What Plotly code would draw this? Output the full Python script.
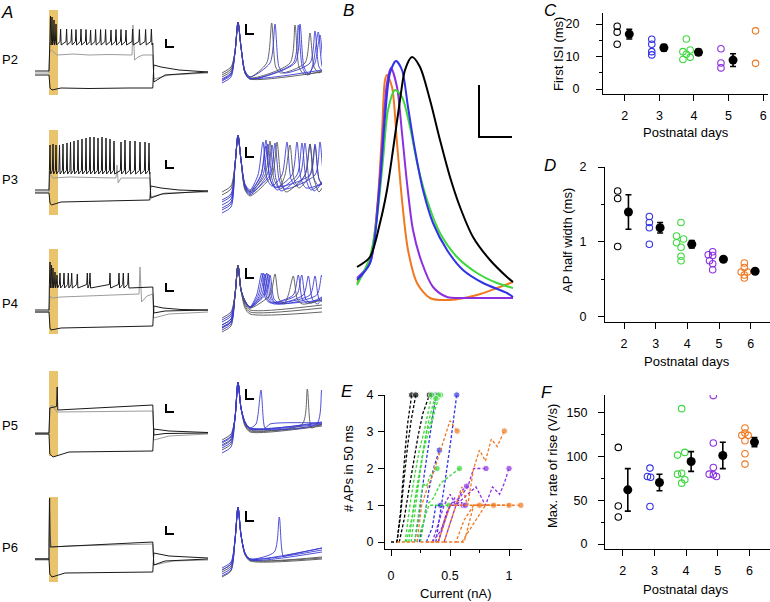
import plotly.graph_objects as go

W, H = 770, 602
FONT = "Liberation Sans, Arial, Helvetica, sans-serif"

# ---------------- data ----------------
AGES = ["P2", "P3", "P4", "P5", "P6"]
DAYS = [2, 3, 4, 5, 6]
AGE_COLORS = ["#000000", "#3232e6", "#3cd83c", "#8c2fe0", "#f07820"]

# A (left): responses to a current step, time (ms) / membrane potential (mV)
T_START, T_END = -70, 795
LIGHT_ON, LIGHT_OFF = 0, 45
STEP_END = [520, 505, 520, 520, 520]

SPK_TIMES = [
    [7.5, 15, 25, 35, 58, 88, 113, 135, 160, 185, 208, 233, 258, 283, 310, 335, 360, 385, 418, 452, 483, 512],
    [5, 20, 35, 52.5, 70, 90, 107.5, 125, 145, 165, 185, 205, 225, 245, 265, 285, 305, 325, 360, 380, 405, 430, 455, 480, 500],
    [5, 12.5, 20, 30, 40, 55, 75, 96.5, 113.5, 141.5, 191.5, 205, 305, 350, 371.5, 396.5],
    [41],
    [3],
]
SPK_PEAKS = [
    [42, 40, 34, 26, 16, 16, 15, 15, 16, 15, 14, 15, 15, 15, 14, 15, 15, 14, 16, 15, 15, 16],
    [24, 26, 24, 24, 26, 28, 30, 32, 34, 36, 38, 40, 40, 38, 40, 38, 36, 32, 30, 34, 32, 32, 30, 30, 28],
    [28, 22, 16, 8, 2, 6, 6, 6, 6, 4, 6, 6, 6, 6, 6, 6],
    [22],
    [52],
]
SPK_PRE = [-68, -66, -68, -70, -70]
SPK_PLATEAU = [-12, -30, -20, -20, -42]
SPK_LAST = [-12, -30, -22, -14, -36]
SPK_OFF = [[-90, -76, -70], [-82, -74, -68], [-74, -70, -68], [-74, -71, -70], [-82, -74, -70]]

GRAY_T = [
    [-70, 0, 3, 12, 40, 120, 200, 300, 415, 420, 428, 445, 470, 519, 524, 600, 795],
    [-70, 0, 4, 20, 100, 335, 340, 346, 360, 504, 508, 580, 795],
    [-70, 0, 4, 15, 60, 200, 300, 450, 455, 463, 490, 519, 523, 600, 795],
    [-70, 0, 5, 15, 40, 200, 519, 524, 600, 795],
    [-70, 0, 2, 4, 12, 100, 519, 524, 620, 795],
]
GRAY_V = [
    [-72, -72, -30, -26, -36, -34, -36, -35, -36, 24, -46, -40, -36, -36, -84, -76, -72],
    [-70, -70, -34, -42, -40, -42, -16, -52, -42, -42, -80, -72, -70],
    [-72, -72, -40, -44, -42, -40, -38, -36, 18, -52, -40, -36, -84, -76, -72],
    [-72, -72, -20, -14, -28, -27, -26, -84, -76, -72],
    [-72, -72, 48, -20, -46, -44, -40, -82, -74, -72],
]
HYP_T = [
    [-70, 0, 5, 15, 60, 200, 400, 519, 524, 560, 650, 795],
    [-70, 0, 5, 12, 60, 300, 504, 509, 560, 650, 795],
    [-70, 0, 5, 10, 60, 300, 519, 524, 570, 660, 795],
    [-70, 0, 4, 20, 100, 300, 519, 524, 600, 795],
    [-70, 0, 4, 15, 80, 300, 519, 524, 600, 795],
]
HYP_V = [
    [-76, -76, -102, -106, -102, -103, -102, -102, -56, -60, -66, -70],
    [-72, -72, -92, -96, -90, -88, -86, -58, -62, -66, -68],
    [-72, -72, -104, -108, -104, -102, -100, -60, -64, -67, -68],
    [-72, -72, -112, -118, -108, -107, -106, -62, -66, -69],
    [-70, -70, -100, -106, -98, -97, -96, -58, -64, -68],
]
SCALE_LEFT_ANCHOR = [(585, -20), (585, -22), (585, -30), (585, -28), (585, -20)]
SCALE_LEFT = (40, 16)  # ms, mV

# A (right): first spikes enlarged, time in samples (0.5 ms) / mV
ZOOM_MAIN = [  # peak, rise mid, fall mid, threshold of later spikes
    dict(peak=-15, rise=-45, fall=-40, thr=-56),
    dict(peak=-15, rise=-45, fall=-40, thr=-55),
    dict(peak=-35, rise=-65, fall=-60, thr=-65),
    dict(peak=-24, rise=-60, fall=-50, thr=-66),
    dict(peak=-17, rise=-50, fall=-45, thr=-62),
]
# (colour, start, trough, later spike times, later spike peaks, end)
ZOOM_TRACES = [
    [("g", -68, -70, [49.7, 88], [-16, -26], -63), ("b", -72, -70, [53, 93], [-17, -24], -60),
     ("g", -70, -71, [73], [-18], -64), ("b", -74, -72, [76.3, 98], [-18, -28], -58),
     ("b", -76, -72, [78, 96.3], [-17, -25], -59), ("g", -66, -72, [], [], -65),
     ("b", -73, -71, [], [], -63)],
    [("b", -80, -70, [41, 65, 88], [-22, -22, -24], -62), ("b", -85, -72, [44, 75], [-20, -22], -64),
     ("b", -90, -74, [46, 80], [-24, -23], -62), ("g", -75, -72, [48, 68, 93], [-21, -25, -26], -66),
     ("b", -93, -75, [50, 83], [-25, -23], -63), ("b", -88, -73, [53, 98], [-23, -22], -60),
     ("g", -72, -76, [55, 88], [-22, -24], -68), ("b", -82, -71, [44, 93], [-26, -24], -62)],
    [("g", -102, -84, [], [], -82), ("g", -98, -82, [], [], -78), ("g", -95, -80, [], [], -75),
     ("b", -92, -77, [39.7, 76.3], [-43, -45], -67), ("b", -95, -77, [41.3, 79.7], [-43, -45], -68),
     ("b", -98, -78, [43, 86.3], [-44, -46], -69), ("b", -100, -77, [44.7, 93], [-43, -46], -68),
     ("b", -97, -78, [46.3, 99.7], [-44, -45], -66), ("b", -90, -77, [48], [-45], -70),
     ("g", -88, -78, [53, 71.3], [-44, -46], -70)],
    [("g", -92, -74, [], [], -68), ("g", -87, -73, [], [], -67), ("b", -85, -70, [39], [-32], -65),
     ("g", -82, -72, [85.3], [-31], -66), ("b", -90, -70, [99.7], [-32], -64), ("b", -95, -71, [], [], -64),
     ("b", -88, -70, [], [], -65), ("b", -84, -71, [], [], -66)],
    [("g", -82, -70, [], [], -68), ("g", -87, -71, [], [], -69), ("g", -80, -70, [], [], -67),
     ("b", -80, -69, [57.3], [-27], -58), ("b", -84, -69, [], [], -58), ("b", -86, -70, [], [], -62),
     ("b", -78, -69, [], [], -60)],
]
SCALE_RIGHT_ANCHOR = [(24, -27), (24, -37), (24, -48), (24, -41), (24, -31)]
SCALE_RIGHT = (8, 10)

# B: average action potentials (samples / a.u.)
B_T = [
    [7, 20, 30, 37, 43, 50, 55, 62, 70, 80, 90, 100, 110, 123, 140, 157, 163],
    [7, 20, 30, 35, 40, 46, 52, 58, 65, 73, 83, 97, 113, 133, 157, 163],
    [7, 20, 27, 33, 38, 45, 52, 60, 68, 78, 90, 107, 127, 147, 163],
    [7, 20, 28, 33, 37, 41, 47, 52, 57, 63, 72, 83, 97, 117, 163],
    [7, 20, 27, 32, 35, 37, 42, 47, 52, 58, 67, 80, 100, 127, 147, 163],
]
B_V = [
    [33, 43, 77, 110, 150, 200, 230, 243, 233, 200, 160, 123, 93, 63, 40, 23, 18],
    [20, 37, 117, 183, 227, 239, 230, 193, 150, 110, 77, 50, 30, 17, 7, 3],
    [15, 43, 83, 140, 190, 210, 203, 173, 133, 97, 67, 43, 27, 17, 12],
    [22, 37, 100, 167, 217, 232, 213, 167, 117, 70, 37, 13, 3, 2, 2],
    [17, 40, 90, 167, 220, 225, 213, 157, 100, 50, 17, 2, 0, 5, 12, 18],
]
B_SCALE_ANCHOR = (129, 163)
B_SCALE = (33, 52)

# C: first ISI (ms)
C_VALUES = [[19.3, 17.5, 13.8], [15.3, 13.8, 11.5, 10.5], [15.4, 12.0, 11.5, 10.7, 9.75, 9.1],
            [12.4, 8.0, 6.5], [17.9, 7.9]]
C_MEANS = [16.9, 12.7, 11.3, 8.9]
C_SEM = [1.5, 1.0, 0.9, 1.95]
# D: AP half width (ms)
D_VALUES = [[1.68, 1.58, 0.94], [1.34, 1.26, 1.19, 0.97], [1.26, 1.08, 1.04, 0.99, 0.93, 0.81, 0.75],
            [0.87, 0.83, 0.82, 0.75, 0.71, 0.63], [0.72, 0.66, 0.60, 0.60, 0.56, 0.52]]
D_MEANS = [1.40, 1.19, 0.97, 0.77, 0.61]
D_SEM = [0.23, 0.07, 0.05, 0.02, 0.02]
# F: max rate of rise (V/s)
F_VALUES = [[110.6, 43.6, 31.0], [86.9, 77.3, 76.5, 42.9], [155.0, 104.9, 101.8, 81.1, 80.0, 73.5, 69.7],
            [169.9, 115.6, 87.6, 80.0, 79.2, 77.3], [132.8, 127.0, 124.4, 124.4, 118.3, 103.3, 91.5]]
F_MEANS = [62.0, 70.4, 94.5, 101.4, 116.7]
F_SEM = [24.3, 9.5, 11.3, 15.1, 5.2]

# E: number of APs in 50 ms vs injected current (nA)
E_CURVES = [
    (0, [0.00, 0.05, 0.08, 0.10, 0.12, 0.14, 0.175], [0, 0, 0.8, 1.7, 2.5, 3.2, 4]),
    (0, [0.05, 0.08, 0.11, 0.14, 0.17, 0.21], [0, 0.7, 1.7, 2.6, 3.3, 4]),
    (0, [0.07, 0.11, 0.15, 0.19, 0.23, 0.27, 0.325], [0, 0.6, 1.4, 2.2, 2.9, 3.5, 4]),
    (1, [0.20, 0.24, 0.28, 0.32, 0.35, 0.38], [0, 0.8, 1.8, 2.7, 3.4, 4]),
    (1, [0.24, 0.28, 0.32, 0.36, 0.41], [0, 0.6, 1.4, 2.0, 2.5]),
    (1, [0.30, 0.35, 0.38, 0.42], [0, 0.4, 1, 1]),
    (1, [0.38, 0.42, 0.46, 0.50, 0.53, 0.557], [0, 0.8, 1.7, 2.6, 3.3, 4]),
    (2, [0.12, 0.16, 0.20, 0.24, 0.28, 0.31, 0.345], [0, 1.0, 1.8, 2.5, 3.0, 3.5, 4]),
    (2, [0.15, 0.19, 0.23, 0.27, 0.31, 0.35, 0.38, 0.42], [0, 0.9, 1.6, 2.4, 2.9, 3.3, 3.7, 4]),
    (2, [0.17, 0.21, 0.25, 0.29, 0.32, 0.36, 0.40], [0, 1.0, 2.0, 2.8, 3.3, 3.8, 4]),
    (2, [0.20, 0.24, 0.27, 0.30, 0.33, 0.36, 0.39], [0, 1.0, 1.6, 1.5, 1.8, 1.9, 2]),
    (2, [0.22, 0.27, 0.32, 0.38, 0.44, 0.49], [0, 0.5, 1, 1, 1, 1]),
    (2, [0.25, 0.30, 0.36, 0.42, 0.50, 0.58], [0, 1, 1.2, 1.6, 1.8, 2]),
    (2, [0.13, 0.18, 0.22, 0.26, 0.30, 0.34, 0.38], [0, 0.7, 1.5, 2.3, 3.0, 3.3, 3.9]),
    (3, [0.35, 0.40, 0.45, 0.50, 0.55, 0.60, 0.64], [0, 0.5, 1, 1.3, 1, 1.4, 1.52]),
    (3, [0.35, 0.42, 0.50, 0.58, 0.65, 0.70, 0.75, 0.805], [0, 0.3, 1, 1.2, 1.5, 2, 2, 2]),
    (3, [0.40, 0.45, 0.50, 0.55, 0.61], [0, 0.5, 1, 1, 1]),
    (3, [0.45, 0.55, 0.65, 0.72, 0.80, 0.86, 0.92, 0.96, 1.0], [0, 1, 1.3, 1.5, 1.0, 1.5, 1.3, 1.6, 2]),
    (3, [0.40, 0.47, 0.54, 0.63], [0, 0.8, 1.2, 1]),
    (4, [0.05, 0.22, 0.26, 0.30, 0.35, 0.40, 0.45, 0.50, 0.56], [0, 0, 1, 1.4, 1.8, 2.3, 2.8, 3.3, 3.02]),
    (4, [0.25, 0.40, 0.45, 0.50, 0.55, 0.60, 0.65, 0.70, 0.75, 0.80, 0.85, 0.90, 0.96],
     [0, 0, 0.5, 1, 1, 1.5, 1, 2, 2.5, 2.2, 2.8, 2.6, 3.02]),
    (4, [0.30, 0.45, 0.50, 0.55, 0.65, 0.75], [0, 0, 0.5, 1, 1, 1]),
    (4, [0.45, 0.55, 0.62, 0.70, 0.80, 0.87], [0, 0, 0.6, 1, 1, 1]),
    (4, [0.55, 0.62, 0.70, 0.80, 0.90, 0.95, 1.0], [0, 0, 1, 1, 1, 1, 1]),
    (4, [0.60, 0.70, 0.80, 0.95, 1.10], [0, 0.5, 1, 1, 1]),
]

# ---------------- styling ----------------
TRACE_BLACK = "#1a1a1a"
TRACE_LIGHT = "#9c9c9c"
ZOOM_COLORS = {"b": "#3b3bd2", "g": "#555555"}
YELLOW = "#e9c46c"
ROW_BASE = [72, 192, 311, 433, 559]          # pixel row of the resting potential
ROW_SHIFT = [5, -2, -11, -5, 1]              # offset of the zoomed panels
OPEN_OFFSET = {"C": -0.22, "D": -0.2, "F": -0.14}
MEAN_OFFSET = {"C": 0.13, "D": 0.14, "F": 0.16}
JITTER = {
    "C": [[0, 0, 0], [0, 0, 0, 0], [0, 0.11, -0.1, 0, 0.11, -0.1], [0, 0, 0], [0, 0]],
    "D": [[0, 0, 0], [0, 0, 0, 0], [0, -0.14, 0.08, -0.14, 0, 0, 0], [0, -0.14, 0, -0.1, 0, 0],
          [0, 0, -0.1, 0.1, 0, 0]],
    "F": [[0, 0, 0], [0, -0.08, 0.02, 0], [0, 0.1, -0.13, 0, -0.13, 0.1, 0], [0, 0, 0, -0.13, 0, 0.1],
          [0, 0, -0.1, 0.1, 0, 0, 0]],
}

fig = go.Figure()
axes = {}


def dom_x(a, b):
    return [a / W, b / W]


def dom_y(top, bottom):
    return [1 - bottom / H, 1 - top / H]


def make_axes(i, xdom, ydom, xr, yr, xstyle=None, ystyle=None):
    xr_ref = "x" if i == 1 else f"x{i}"
    yr_ref = "y" if i == 1 else f"y{i}"
    xa = dict(domain=xdom, range=xr, anchor=yr_ref, visible=False, fixedrange=True, automargin=False)
    ya = dict(domain=ydom, range=yr, anchor=xr_ref, visible=False, fixedrange=True, automargin=False)
    if xstyle:
        xa.update(visible=True, **xstyle)
    if ystyle:
        ya.update(visible=True, **ystyle)
    axes["xaxis" if i == 1 else f"xaxis{i}"] = xa
    axes["yaxis" if i == 1 else f"yaxis{i}"] = ya
    return xr_ref, yr_ref


def line(xs, ys, xa, ya, color, width=1.0, shape="linear", smoothing=None):
    fig.add_trace(go.Scatter(x=xs, y=ys, xaxis=xa, yaxis=ya, mode="lines",
                             line=dict(color=color, width=width, shape=shape, smoothing=smoothing),
                             showlegend=False, hoverinfo="skip"))


def spike_train(times, peaks, pre, plateau, last, step_end, off):
    t, v = [T_START, 0], [pre, pre]
    if times[0] - 3 > 4:
        t.append(4)
        v.append(plateau)
    for ts, pk in zip(times, peaks):
        t += [ts - 3, ts, ts + 3]
        v += [plateau + 3, pk, plateau - 4]
    t += [step_end - 1, step_end + 4, step_end + 60, T_END]
    v += [last, off[0], off[1], off[2]]
    return t, v


def zoom_trace(main, start, trough, spk_t, spk_v, end):
    t = [0, 9, 13, 16, 19, 23, 28]
    v = [start, start + 6, main["rise"], main["peak"], main["fall"], trough + 6, trough]
    for s, pk in zip(spk_t, spk_v):
        t += [s - 5, s, s + 4, s + 9]
        v += [main["thr"], pk, main["thr"] - 4, trough + 4]
    if t[-1] < 100:
        t.append(100)
        v.append(end)
    return t, v


# ---- panel A ----
for r, age in enumerate(AGES):
    base = ROW_BASE[r]
    ydom = dom_y(base - 64, base + 26)
    xa, ya = make_axes(r + 1, dom_x(35, 208), ydom, [T_START, T_END], [-122, 58])
    fig.add_shape(type="rect", xref=xa, yref=f"{ya} domain", x0=LIGHT_ON, x1=LIGHT_OFF,
                  y0=0.033, y1=0.978, fillcolor=YELLOW, line_width=0, layer="below")
    line(GRAY_T[r], GRAY_V[r], xa, ya, TRACE_LIGHT)
    line(HYP_T[r], HYP_V[r], xa, ya, TRACE_BLACK)
    t, v = spike_train(SPK_TIMES[r], SPK_PEAKS[r], SPK_PRE[r], SPK_PLATEAU[r], SPK_LAST[r],
                       STEP_END[r], SPK_OFF[r])
    line(t, v, xa, ya, TRACE_BLACK)
    sx, sy = SCALE_LEFT_ANCHOR[r]
    line([sx, sx, sx + SCALE_LEFT[0]], [sy + SCALE_LEFT[1], sy, sy], xa, ya, "black", 2)

    d = ROW_SHIFT[r]
    xb, yb = make_axes(r + 6, dom_x(222, 322), ydom, [0, 100], [-96 + d, -6 + d])
    for col, start, trough, st, sv, end in ZOOM_TRACES[r]:
        t, v = zoom_trace(ZOOM_MAIN[r], start, trough, st, sv, end)
        line(t, v, xb, yb, ZOOM_COLORS[col], 0.9, shape="spline", smoothing=0.7)
    sx, sy = SCALE_RIGHT_ANCHOR[r]
    line([sx, sx, sx + SCALE_RIGHT[0]], [sy + SCALE_RIGHT[1], sy, sy], xb, yb, "black", 2)

# ---- panel B ----
xa, ya = make_axes(11, dom_x(350, 520), dom_y(50, 305), [0, 170], [-5, 250])
for k in [4, 3, 2, 1, 0]:
    line(B_T[k], B_V[k], xa, ya, AGE_COLORS[k], 2, shape="spline", smoothing=0.8)
bx, by = B_SCALE_ANCHOR
line([bx, bx, bx + B_SCALE[0]], [by + B_SCALE[1], by, by], xa, ya, "black", 2)

# ---- stats axes ----
TICKFONT = dict(family=FONT, size=12.5, color="black")
BASE_AX = dict(showline=True, linecolor="black", linewidth=1.3, ticks="outside", ticklen=6,
               tickwidth=1.3, tickcolor="black", showgrid=False, zeroline=False, tickfont=TICKFONT)


def minor(dt):
    return dict(ticks="outside", ticklen=3, tickwidth=1.3, tickcolor="black", dtick=dt, showgrid=False)


def day_axis():
    return dict(BASE_AX, tickvals=DAYS, ticklabelstandoff=4)


def stat_panel(key, xa, ya, values, means, sems):
    for k, vals in enumerate(values):
        xs = [DAYS[k] + OPEN_OFFSET[key] + j for j in JITTER[key][k]]
        fig.add_trace(go.Scatter(x=xs, y=vals, xaxis=xa, yaxis=ya, mode="markers", showlegend=False,
                                 marker=dict(symbol="circle-open", size=6.5, color=AGE_COLORS[k],
                                             line=dict(width=1.1)), hoverinfo="skip"))
    mx = [DAYS[k] + MEAN_OFFSET[key] for k in range(len(means))]
    fig.add_trace(go.Scatter(x=mx, y=means, xaxis=xa, yaxis=ya, mode="markers", showlegend=False,
                             marker=dict(size=9, color="black"),
                             error_y=dict(type="data", array=sems, color="black", thickness=1.6, width=3),
                             hoverinfo="skip"))


xa, ya = make_axes(12, dom_x(603, 768), dom_y(13, 94), [1.37, 6.14], [-1.54, 23.4],
                   day_axis(), dict(BASE_AX, tickvals=[0, 10, 20], minor=minor(5), ticklabelstandoff=14))
stat_panel("C", xa, ya, C_VALUES, C_MEANS, C_SEM)

xa, ya = make_axes(13, dom_x(605, 770), dom_y(167, 322), [1.40, 6.61], [-0.067, 2.0],
                   day_axis(), dict(BASE_AX, tickvals=[0, 1, 2], minor=minor(0.5), ticklabelstandoff=9))
stat_panel("D", xa, ya, D_VALUES, D_MEANS, D_SEM)

xa, ya = make_axes(15, dom_x(605, 770), dom_y(395, 549), [1.44, 6.65], [-5.7, 170.6],
                   day_axis(), dict(BASE_AX, tickvals=[0, 50, 100, 150], minor=minor(25),
                                    ticklabelstandoff=8))
stat_panel("F", xa, ya, F_VALUES, F_MEANS, F_SEM)

# ---- panel E ----
xa, ya = make_axes(14, dom_x(385, 522), dom_y(395, 549), [-0.051, 1.11], [-0.19, 4.0],
                   dict(BASE_AX, tickvals=[0, 0.5, 1], ticktext=["0", "0.5", "1"], minor=minor(0.25),
                        ticklabelstandoff=9),
                   dict(BASE_AX, tickvals=[0, 1, 2, 3, 4], ticklabelstandoff=2))
for k, cur, n in E_CURVES:
    fig.add_trace(go.Scatter(x=cur, y=n, xaxis=xa, yaxis=ya, mode="lines+markers", showlegend=False,
                             line=dict(color=AGE_COLORS[k], width=1.3, dash="3px,2px"),
                             marker=dict(size=[0] * (len(cur) - 1) + [6.5], color=AGE_COLORS[k]),
                             hoverinfo="skip", cliponaxis=False))

# ---- text ----
notes = []
for label, x, y in [("A", 7, 12), ("B", 348, 11), ("C", 550, 11), ("D", 550, 166), ("E", 347, 391),
                    ("F", 547, 392)]:
    notes.append(dict(text=f"<i>{label}</i>", x=x / W, y=1 - y / H, font=dict(size=17)))
for age, y in zip(AGES, [60, 180, 303, 425, 547]):
    notes.append(dict(text=age, x=10 / W, y=1 - y / H, font=dict(size=13)))
for text, x, y, ang in [("Postnatal days", 686, 133, 0), ("First ISI (ms)", 558, 54, -90),
                        ("Postnatal days", 687, 361, 0), ("AP half width (ms)", 567, 241, -90),
                        ("Postnatal days", 686, 589, 0), ("Max. rate of rise (V/s)", 552, 466, -90),
                        ("Current (nA)", 456, 593, 0), ("# APs in 50 ms", 348, 469, -90)]:
    notes.append(dict(text=text, x=x / W, y=1 - y / H, textangle=ang, font=dict(size=13)))
for a in notes:
    a.update(xref="paper", yref="paper", showarrow=False, xanchor="center", yanchor="middle")
    a["font"] = dict(family=FONT, color="black", **a["font"])

fig.update_layout(width=W, height=H, margin=dict(l=0, r=0, t=0, b=0, autoexpand=False),
                  paper_bgcolor="white", plot_bgcolor="white", font=dict(family=FONT, color="black"),
                  annotations=notes, showlegend=False, **axes)

fig.write_html("out.html", config={"displayModeBar": False},
               post_script="document.body.style.margin = '0';")
